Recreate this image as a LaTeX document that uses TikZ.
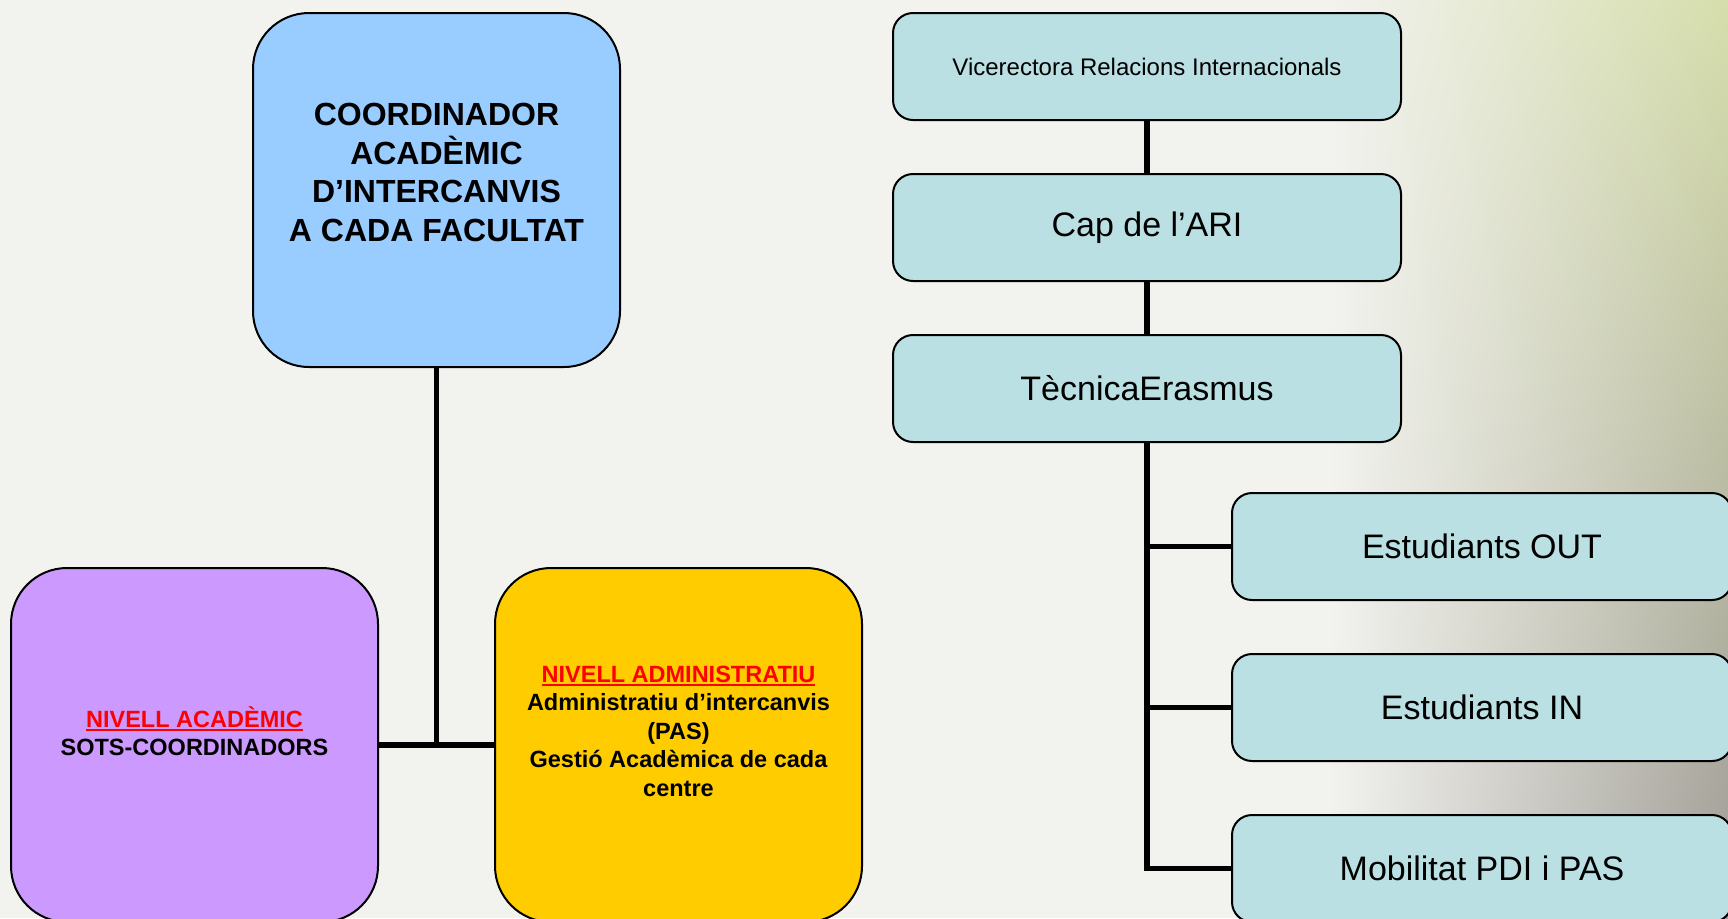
\documentclass[tikz,border=0pt]{standalone}
\usepackage{fontspec}
\setmainfont{Liberation Sans}
\usetikzlibrary{positioning}
\usetikzlibrary{shadings}
\definecolor{coordblue}{RGB}{153,204,255}
\definecolor{acadlila}{RGB}{204,153,255}
\definecolor{admingold}{RGB}{255,204,0}
\definecolor{ariteal}{RGB}{186,224,227}
\definecolor{bgpale}{RGB}{242,242,239}
\definecolor{bggrey}{RGB}{160,156,154}
\definecolor{bglime}{RGB}{214,222,172}
\newcommand{\ulred}[1]{\textcolor{red}{\setbox0\hbox{#1}\rlap{\rule[-2pt]{\wd0}{1pt}}\box0}}

\begin{document}
\begin{tikzpicture}[x=0.5pt,y=-0.5pt,node distance=26pt,
		big node/.style={draw,line width=1pt,rounded corners=28pt,minimum width=183.5pt,minimum height=177pt,inner sep=0pt},
		big text/.style={align=center,font=\bfseries\fontsize{11.75}{14.25}\selectfont},
		ari node/.style={draw,line width=1pt,rounded corners=10pt,fill=ariteal,minimum height=53.5pt,inner sep=0pt,font=\fontsize{17}{20}\selectfont},
		link/.style={line width=2.8pt}]
		
		\useasboundingbox (0,0) rectangle (1728,918);
		\clip (0,0) rectangle (1728,918);
		\fill[bgpale] (0,0) rectangle (1728,918);
		\shade[upper left=bgpale,lower left=bgpale,upper right=bglime,lower right=bggrey] (1330,0) rectangle (1728,918);
		
		% facultat
		\node[big node,fill=coordblue] (coord) at (436.5,190) {};
		\node[align=center,font=\bfseries\fontsize{16}{19.25}\selectfont] (coordtxt) at (436.5,172.5) {COORDINADOR\\ACADÈMIC\\D’INTERCANVIS\\A CADA FACULTAT};
		\node[big node,fill=acadlila] (acad) at (194.5,745) {};
		\node[big text] (acadtxt) at (194.5,731) {\ulred{NIVELL ACADÈMIC}\\SOTS-COORDINADORS};
		\node[big node,fill=admingold] (admin) at (678.5,745) {};
		\node[big text] (admintxt) at (678.5,731) {\ulred{NIVELL ADMINISTRATIU}\\Administratiu d’intercanvis\\(PAS)\\Gestió Acadèmica de cada\\centre};
		
		% ARI
		\node[ari node,minimum width=254pt,font=\fontsize{12}{14}\selectfont] (vice) at (1147,66.5) {Vicerectora Relacions Internacionals};
		\node[ari node,minimum width=254pt] (cap) [below=of vice] {Cap de l’ARI};
		\node[ari node,minimum width=254pt] (tecnica) [below=of cap] {TècnicaErasmus};
		\node[ari node,minimum width=250pt] (sout) at (1482,546.5) {Estudiants OUT};
		\node[ari node,minimum width=250pt] (sin) [below=of sout] {Estudiants IN};
		\node[ari node,minimum width=250pt] (mob) [below=of sin] {Mobilitat PDI i PAS};
		
		\draw[link] (coord) -- (coord |- acad);
		\draw[link] (acad) -- (admin);
		\draw[link] (vice) -- (cap);
		\draw[link] (cap) -- (tecnica);
		\draw[link] (tecnica) |- (mob);
		\draw[link] (tecnica |- sout) -- (sout);
		\draw[link] (tecnica |- sin) -- (sin);
\end{tikzpicture}
\end{document}
